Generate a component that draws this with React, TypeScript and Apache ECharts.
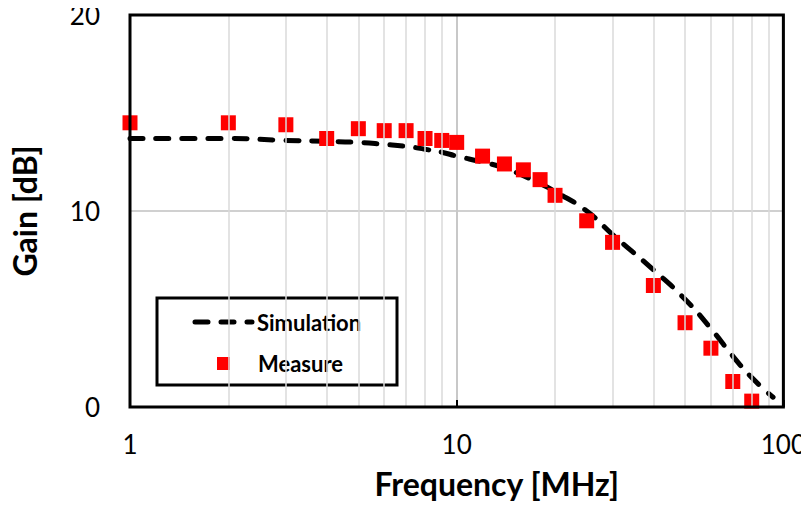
import React, { useEffect, useRef } from "react";
import * as echarts from "echarts";

// Simulated gain curve, sampled along frequency [MHz]
const simFreq = [1, 2, 3, 4, 5, 6, 7, 8, 9, 10, 12, 14, 16, 18, 20, 25, 30, 40, 50, 60, 70, 80, 93];
const simGain = [13.7, 13.7, 13.6, 13.55, 13.5, 13.4, 13.3, 13.15, 13.0, 12.8, 12.5, 12.2, 11.8, 11.4, 11.0, 10.0, 8.8, 7.0, 5.5, 4.0, 2.6, 1.5, 0.5];

// Measured gain points
const measFreq = [1, 2, 3, 4, 5, 6, 7, 8, 9, 10, 12, 14, 16, 18, 20, 25, 30, 40, 50, 60, 70, 80];
const measGain = [14.5, 14.5, 14.4, 13.7, 14.2, 14.1, 14.1, 13.7, 13.6, 13.5, 12.8, 12.4, 12.1, 11.6, 10.8, 9.5, 8.4, 6.2, 4.3, 3.0, 1.3, 0.3];

// Minor vertical grid positions on the log axis
const minorGrid = [2, 3, 4, 5, 6, 7, 8, 9, 20, 30, 40, 50, 60, 70, 80, 90];

const legendNames = ["Simulation", "Measure"];

const FONT = "Lato, 'Open Sans', sans-serif";
const MARK = 15;

export default function App() {
  const ref = useRef<HTMLDivElement>(null);

  useEffect(() => {
    if (!ref.current) return;
    const chart = echarts.init(ref.current, null, { renderer: "svg" });

    const option: any = {
      animation: false,
      backgroundColor: "#ffffff",
      grid: {
        left: 130,
        top: 15,
        right: 24,
        bottom: 102,
        show: true,
        borderColor: "#000000",
        borderWidth: 3,
        backgroundColor: "transparent",
        z: 10,
      },
      xAxis: {
        type: "log",
        logBase: 10,
        min: 1,
        max: 100,
        name: "Frequency [MHz]",
        nameLocation: "middle",
        nameGap: 60,
        nameTextStyle: {
          fontFamily: FONT,
          fontSize: 32,
          fontWeight: "bold",
          color: "#000",
          padding: [0, 0, 0, 80],
        },
        axisLine: { show: false },
        axisTick: { show: true, inside: true, length: 7, lineStyle: { color: "#000", width: 2 } },
        axisLabel: { fontFamily: FONT, fontSize: 26, color: "#000", margin: 24 },
        splitLine: { show: true, lineStyle: { color: "#c8c8c8", width: 2 } },
      },
      yAxis: {
        type: "value",
        min: 0,
        max: 20,
        interval: 10,
        name: "Gain [dB]",
        nameLocation: "middle",
        nameGap: 90,
        nameTextStyle: { fontFamily: FONT, fontSize: 32, fontWeight: "bold", color: "#000" },
        axisLine: { show: false },
        axisTick: { show: false },
        axisLabel: { fontFamily: FONT, fontSize: 26, color: "#000", margin: 30 },
        splitLine: { show: true, lineStyle: { color: "#d0d0d0", width: 2 } },
      },
      series: [
        {
          name: "grid-minor",
          type: "line",
          data: [],
          silent: true,
          markLine: {
            silent: true,
            symbol: ["none", "none"],
            label: { show: false },
            lineStyle: { color: "#dadada", width: 1.5, type: "solid" },
            data: minorGrid.map((v) => ({ xAxis: v })),
          },
          z: 1,
        },
        {
          name: legendNames[0],
          type: "line",
          smooth: true,
          showSymbol: false,
          symbol: "none",
          data: simFreq.map((f, i) => [f, simGain[i]]),
          lineStyle: { color: "#000", width: 5, type: [13, 13], cap: "round" },
          z: 3,
        },
        {
          name: legendNames[1],
          type: "custom",
          data: measFreq.map((f, i) => [f, measGain[i]]),
          encode: { x: 0, y: 1 },
          renderItem: (_params: any, api: any) => {
            const p = api.coord([api.value(0), api.value(1)]);
            return {
              type: "rect",
              shape: { x: p[0] - MARK / 2, y: p[1] - MARK / 2, width: MARK, height: MARK },
              style: { fill: "#ff0000", stroke: null },
            };
          },
          clip: false,
          z: 4,
        },
      ],
      graphic: [
        {
          type: "group",
          z: 100,
          children: [
            {
              type: "rect",
              shape: { x: 157, y: 298, width: 240, height: 87 },
              style: { fill: "#ffffff", stroke: "#000", lineWidth: 3 },
            },
            {
              type: "line",
              shape: { x1: 195, y1: 322, x2: 252, y2: 322 },
              style: { stroke: "#000", lineWidth: 5, lineDash: [13, 13], lineCap: "round" },
            },
            {
              type: "text",
              x: 257,
              y: 322,
              style: {
                text: legendNames[0],
                font: `bold 22px ${FONT}`,
                fill: "#000",
                verticalAlign: "middle",
                align: "left",
              },
            },
            {
              type: "rect",
              shape: { x: 217, y: 357, width: 13, height: 13 },
              style: { fill: "#ff0000" },
            },
            {
              type: "text",
              x: 258,
              y: 363,
              style: {
                text: legendNames[1],
                font: `bold 22px ${FONT}`,
                fill: "#000",
                verticalAlign: "middle",
                align: "left",
              },
            },
          ],
        },
      ],
    };

    chart.setOption(option);
    return () => chart.dispose();
  }, []);

  return <div ref={ref} style={{ width: 809, height: 509, margin: -8 }} />;
}
